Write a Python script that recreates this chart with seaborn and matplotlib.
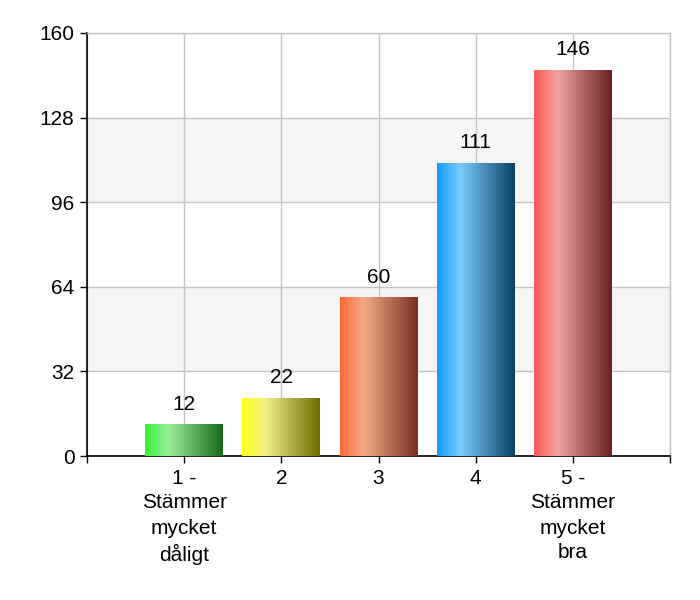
import matplotlib
matplotlib.use("Agg")
import matplotlib.pyplot as plt
import matplotlib.colors as mcolors
import numpy as np
import pandas as pd
import seaborn as sns

categories = ["1 -\nStämmer\nmycket\ndåligt", "2", "3", "4", "5 -\nStämmer\nmycket\nbra"]
values = [12, 22, 60, 111, 146]
y_ticks = [0, 32, 64, 96, 128, 160]
left_colors = ["#33f033", "#ffff14", "#ff6633", "#1199ff", "#ff5555"]
light_colors = ["#9aee9a", "#f0f08a", "#f5aa88", "#7accff", "#f5a2a2"]
dark_colors = ["#1a681a", "#6c6c00", "#7a3020", "#0a4262", "#6a2020"]

sns.set_theme(style="white")
plt.rcParams["font.family"] = ["Liberation Sans", "DejaVu Sans"]

df = pd.DataFrame({"cat": categories, "val": values})

fig = plt.figure(figsize=(7, 6), dpi=100)
ax = fig.add_axes([87/700, 1-456/600, (670-87)/700, (456-33)/600])

sns.barplot(data=df, x="cat", y="val", ax=ax, width=0.8, color="#888888",
            saturation=1, zorder=3, edgecolor="none")
bars = list(ax.patches)

ax.set_xlim(-1, 5)
ax.set_ylim(0, 160)

# alternating bands
for i in range(len(y_ticks) - 1):
    if i % 2 == 1:
        ax.axhspan(y_ticks[i], y_ticks[i+1], color="#f5f5f5", zorder=0, lw=0)

FS = 15
# gradient fill for bars
for k, p in enumerate(bars):
    x0, y0 = p.get_x(), p.get_y()
    w, h = p.get_width(), p.get_height()
    cmap = mcolors.LinearSegmentedColormap.from_list(
        "g%d" % k, [(0, left_colors[k]), (0.3, light_colors[k]), (1, dark_colors[k])])
    grad = np.linspace(0, 1, 256).reshape(1, -1)
    im = ax.imshow(grad, cmap=cmap, aspect="auto", extent=[x0, x0 + w, y0, y0 + h],
                   zorder=4, interpolation="bicubic")
    im.set_clip_path(p)
    ax.text(x0 + w/2, h + 4, str(values[k]), ha="center", va="bottom",
            fontsize=FS, color="black", zorder=5)

ax.set_xlim(-1, 5)
ax.set_ylim(0, 160)

ax.set_xticks(range(-1, 6))
ax.set_xticklabels([""] + categories + [""], fontsize=FS, color="black",
                   linespacing=1.4)
ax.set_yticks(y_ticks)
ax.set_yticklabels([str(t) for t in y_ticks], fontsize=FS, color="black")
ax.tick_params(axis="x", direction="out", length=5, width=1, color="black",
               bottom=True, pad=4)
ax.tick_params(axis="y", direction="out", length=5, width=1, color="black",
               left=True, pad=4)
ax.set_xlabel("")
ax.set_ylabel("")

ax.grid(True, color="#c4c4c4", lw=1, zorder=1)
ax.set_axisbelow(True)

for s in ["top", "right"]:
    ax.spines[s].set_color("#c4c4c4")
    ax.spines[s].set_linewidth(1)
for s in ["left", "bottom"]:
    ax.spines[s].set_color("black")
    ax.spines[s].set_linewidth(1.2)

fig.savefig("out.png", dpi=100, facecolor="white")
